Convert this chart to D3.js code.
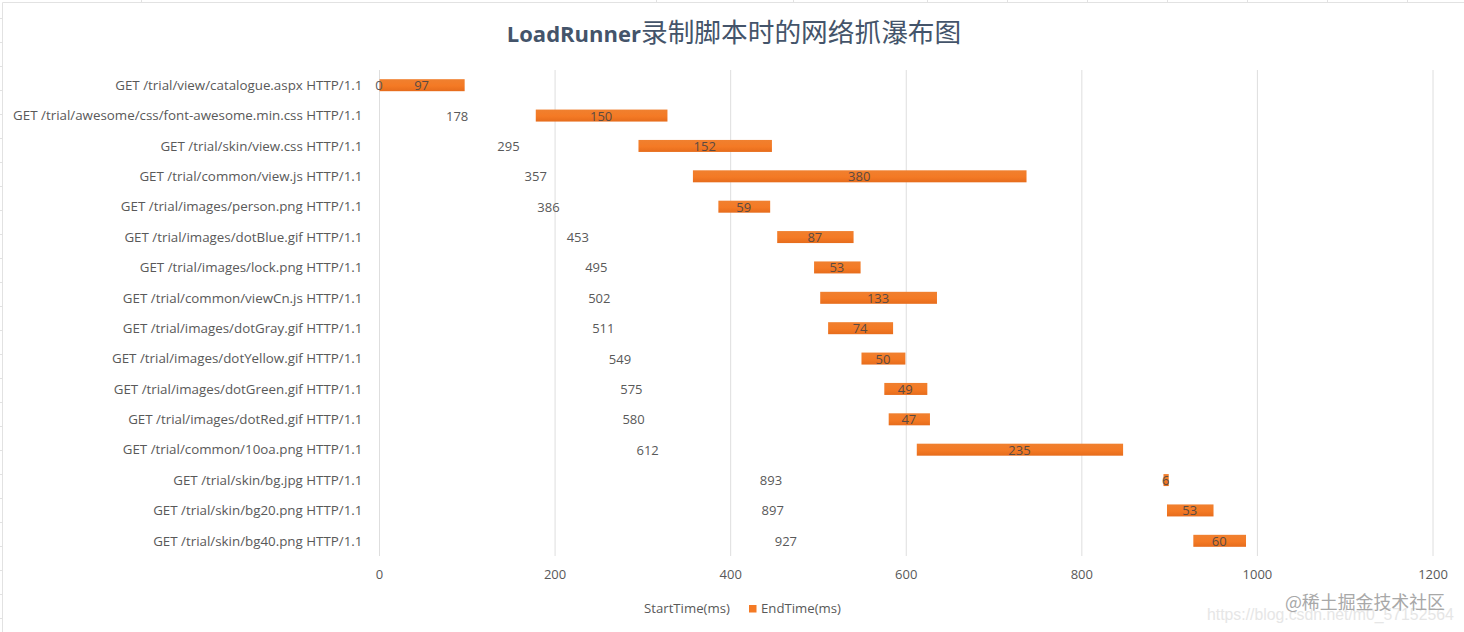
<!DOCTYPE html>
<html>
<head>
<meta charset="utf-8">
<script src="https://cdnjs.cloudflare.com/ajax/libs/d3/7.8.5/d3.min.js"></script>
<style>
  html, body { margin: 0; padding: 0; background: #fff; }
  svg { display: block; }
  text { font-family: "Open Sans", "Noto Sans", "Noto Sans CJK SC", sans-serif; }
</style>
</head>
<body>
<div id="chart"></div>
<script>
// Requests, in the order they were recorded
var requests = [
  "GET /trial/view/catalogue.aspx HTTP/1.1",
  "GET /trial/awesome/css/font-awesome.min.css HTTP/1.1",
  "GET /trial/skin/view.css HTTP/1.1",
  "GET /trial/common/view.js HTTP/1.1",
  "GET /trial/images/person.png HTTP/1.1",
  "GET /trial/images/dotBlue.gif HTTP/1.1",
  "GET /trial/images/lock.png HTTP/1.1",
  "GET /trial/common/viewCn.js HTTP/1.1",
  "GET /trial/images/dotGray.gif HTTP/1.1",
  "GET /trial/images/dotYellow.gif HTTP/1.1",
  "GET /trial/images/dotGreen.gif HTTP/1.1",
  "GET /trial/images/dotRed.gif HTTP/1.1",
  "GET /trial/common/10oa.png HTTP/1.1",
  "GET /trial/skin/bg.jpg HTTP/1.1",
  "GET /trial/skin/bg20.png HTTP/1.1",
  "GET /trial/skin/bg40.png HTTP/1.1"
];
var startTimes = [0, 178, 295, 357, 386, 453, 495, 502, 511, 549, 575, 580, 612, 893, 897, 927];
var durations = [97, 150, 152, 380, 59, 87, 53, 133, 74, 50, 49, 47, 235, 6, 53, 60];
var xTicks = [0, 200, 400, 600, 800, 1000, 1200];

var width = 1464, height = 632;
var textColor = "#595959";

var svg = d3.select("#chart").append("svg")
  .attr("width", width)
  .attr("height", height);

var defs = svg.append("defs");
var grad = defs.append("linearGradient")
  .attr("id", "barFill")
  .attr("x1", 0).attr("y1", 0).attr("x2", 0).attr("y2", 1);
grad.append("stop").attr("offset", "0%").attr("stop-color", "#f0802f");
grad.append("stop").attr("offset", "55%").attr("stop-color", "#f47a25");
grad.append("stop").attr("offset", "100%").attr("stop-color", "#e66c1c");

// Spreadsheet cell lines showing around the chart
var sheetColor = "#e2e2e2";
svg.append("line").attr("x1", 2.5).attr("x2", width).attr("y1", 2.5).attr("y2", 2.5).attr("stroke", sheetColor);
svg.append("line").attr("x1", 2.5).attr("x2", 2.5).attr("y1", 2.5).attr("y2", height).attr("stroke", sheetColor);
svg.selectAll(".sheetRow").data(d3.range(18, height, 24)).enter().append("line")
  .attr("class", "sheetRow")
  .attr("x1", 0).attr("x2", 2.5)
  .attr("y1", d => d + 0.5).attr("y2", d => d + 0.5)
  .attr("stroke", sheetColor);
svg.selectAll(".sheetCol").data([141, 656, 793, 927, 1007, 1087, 1167, 1247, 1327, 1407]).enter().append("line")
  .attr("class", "sheetCol")
  .attr("x1", d => d + 0.5).attr("x2", d => d + 0.5)
  .attr("y1", 0).attr("y2", 2.5)
  .attr("stroke", sheetColor);

var x = d3.scaleLinear().domain([0, 1200]).range([379.5, 1433]);
var y = d3.scaleBand().domain(requests).range([70, 556]);

// Gridlines
svg.selectAll(".grid").data(xTicks).enter().append("line")
  .attr("class", "grid")
  .attr("x1", d => x(d)).attr("x2", d => x(d))
  .attr("y1", 70).attr("y2", 556)
  .attr("stroke", "#dedede");

// x axis
var xAxis = d3.axisBottom(x).tickValues(xTicks).tickSize(0).tickPadding(14).tickFormat(d3.format("d"));
var xg = svg.append("g").attr("transform", "translate(-0.5,556)").call(xAxis);
xg.select(".domain").remove();
xg.selectAll("text").attr("fill", textColor).style("font-size", "13px")
  .style("font-family", '"Open Sans", sans-serif');

// y axis
var yAxis = d3.axisLeft(y).tickSize(0).tickPadding(17);
var yg = svg.append("g").attr("transform", "translate(379.5,0.5)").call(yAxis);
yg.select(".domain").remove();
yg.selectAll("text").attr("fill", textColor).style("font-size", "13.35px")
  .style("font-family", '"Open Sans", sans-serif');

// Bars start at StartTime, the StartTime series itself is invisible
var rows = requests.map((r, i) => ({ name: r, start: startTimes[i], dur: durations[i] }));
var barH = 12;

svg.selectAll(".bar").data(rows).enter().append("rect")
  .attr("class", "bar")
  .attr("x", d => x(d.start))
  .attr("y", d => y(d.name) + y.bandwidth() / 2 - barH / 2)
  .attr("width", d => x(d.start + d.dur) - x(d.start))
  .attr("height", barH)
  .attr("fill", "url(#barFill)");

// Labels sit at the middle of each stacked segment
svg.selectAll(".startLabel").data(rows).enter().append("text")
  .attr("class", "startLabel")
  .attr("x", d => x(d.start / 2) - 0.5)
  .attr("y", d => y(d.name) + y.bandwidth() / 2 + 5)
  .attr("text-anchor", "middle")
  .attr("fill", textColor)
  .style("font-size", "13px")
  .text(d => d.start);

svg.selectAll(".durLabel").data(rows).enter().append("text")
  .attr("class", "durLabel")
  .attr("x", d => x(d.start + d.dur / 2) - 0.5)
  .attr("y", d => y(d.name) + y.bandwidth() / 2 + 5)
  .attr("text-anchor", "middle")
  .attr("fill", "#5a4a42")
  .style("font-size", "13px")
  .text(d => d.dur);

// Title, the latin part is set smaller than the chinese part
var title = svg.append("text")
  .attr("x", 734).attr("y", 42)
  .attr("text-anchor", "middle")
  .attr("fill", "#44546a");
title.append("tspan")
  .attr("font-weight", 700)
  .style("font-size", "22px")
  .text("LoadRunner");
title.append("tspan")
  .style("font-size", "26.7px")
  .style("font-family", '"Noto Sans CJK SC", sans-serif')
  .text("录制脚本时的网络抓瀑布图");

// Legend
svg.append("text").attr("x", 644).attr("y", 613)
  .attr("fill", textColor).style("font-size", "13.2px").text("StartTime(ms)");
svg.append("rect").attr("x", 749).attr("y", 605).attr("width", 7.5).attr("height", 7.5).attr("fill", "#f47a25");
svg.append("text").attr("x", 761).attr("y", 613)
  .attr("fill", textColor).style("font-size", "13.2px").text("EndTime(ms)");

// Watermarks
svg.append("text").attr("x", 1207).attr("y", 620)
  .attr("fill", "#e6e6e6").style("font-size", "15.8px")
  .style("font-family", '"Liberation Sans", sans-serif')
  .text("https://blog.csdn.net/m0_57152564");
svg.append("text").attr("x", 1445).attr("y", 609)
  .attr("text-anchor", "end")
  .attr("fill", "#a8a8a8").style("font-size", "17.9px")
  .style("font-family", '"Noto Sans CJK SC", sans-serif')
  .text("@稀土掘金技术社区");
</script>
</body>
</html>
